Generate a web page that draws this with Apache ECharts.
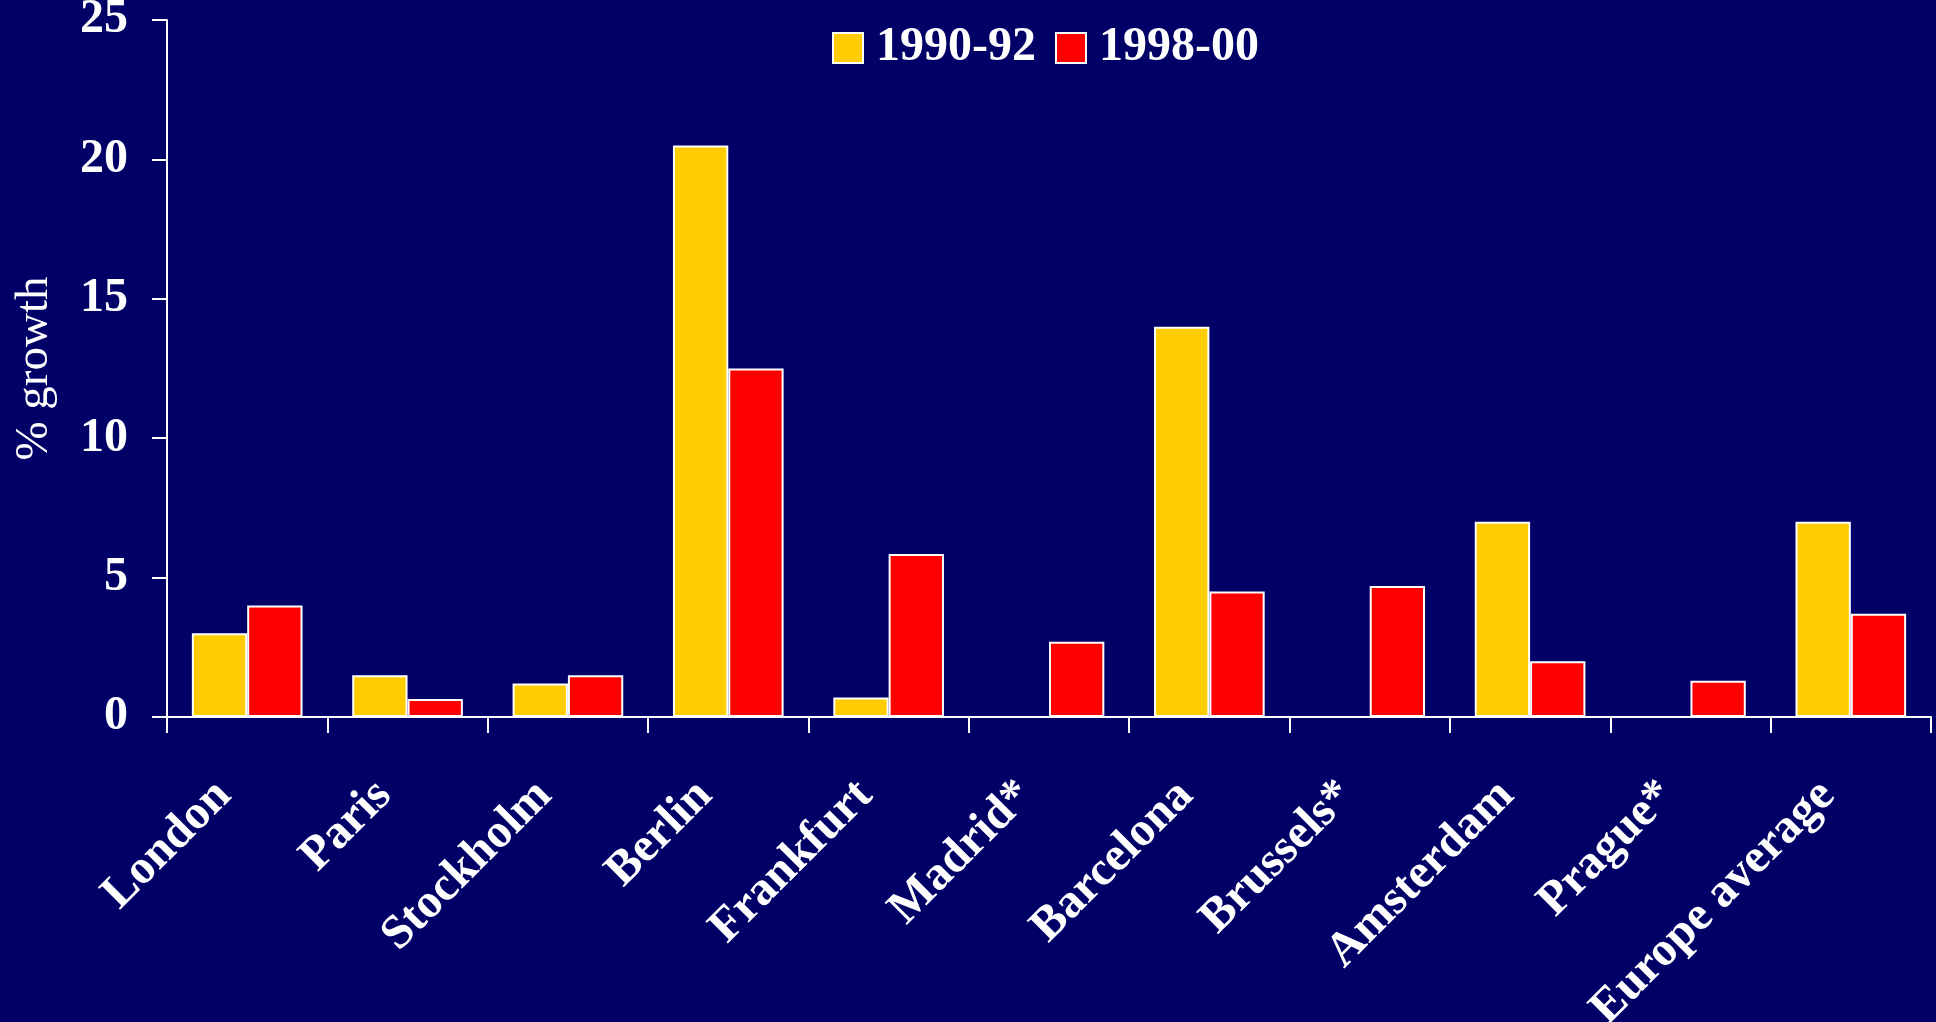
<!DOCTYPE html>
<html>
<head>
<meta charset="utf-8">
<title>Office rent growth by city</title>
<script src="https://cdn.jsdelivr.net/npm/echarts@6/dist/echarts.min.js"></script>
<style>
  html, body { margin: 0; padding: 0; background: #000066; }
  #chart { width: 1936px; height: 1022px; }
</style>
</head>
<body>
<div id="chart"></div>
<script>
// City categories along the x axis
const cities = ['London', 'Paris', 'Stockholm', 'Berlin', 'Frankfurt', 'Madrid*',
  'Barcelona', 'Brussels*', 'Amsterdam', 'Prague*', 'Europe average'];

// % growth per period (null where no figure exists)
const growth1990_92 = [3, 1.5, 1.2, 20.5, 0.7, null, 14, null, 7, null, 7];
const growth1998_00 = [4, 0.65, 1.5, 12.5, 5.85, 2.7, 4.5, 4.7, 2, 1.3, 3.7];

const seriesNames = ['1990-92', '1998-00'];
const yTicks = { min: 0, max: 25, interval: 5 };

const serif = '"Liberation Serif", "Times New Roman", serif';
const white = '#ffffff';

const chart = echarts.init(document.getElementById('chart'), null, { renderer: 'canvas' });

chart.setOption({
  backgroundColor: '#000066',
  animation: false,
  legend: {
    data: seriesNames,
    icon: 'rect',
    left: 827,
    top: 19,
    itemWidth: 30,
    itemHeight: 30,
    itemGap: 19,
    selectedMode: false,
    textStyle: {
      color: white,
      fontFamily: serif,
      fontWeight: 'bold',
      fontSize: 48,
      padding: [0, 0, 0, 8]
    },
    itemStyle: { borderColor: white, borderWidth: 2 }
  },
  grid: {
    left: 167,
    right: 5,
    top: 20,
    bottom: 305,
    containLabel: false,
    outerBoundsMode: 'none'
  },
  xAxis: {
    type: 'category',
    data: cities,
    axisLine: { lineStyle: { color: white, width: 2 } },
    axisTick: { show: true, length: 16, alignWithLabel: false, lineStyle: { color: white, width: 2 } },
    axisLabel: {
      interval: 0,
      rotate: 45,
      align: 'right',
      verticalAlign: 'bottom',
      margin: 82,
      padding: [0, 9, 0, 0],
      color: white,
      fontFamily: serif,
      fontWeight: 'bold',
      fontSize: 48
    },
    splitLine: { show: false }
  },
  yAxis: {
    type: 'value',
    min: yTicks.min,
    max: yTicks.max,
    interval: yTicks.interval,
    name: '% growth',
    nameLocation: 'middle',
    nameGap: 109,
    nameTextStyle: {
      color: white,
      fontFamily: serif,
      fontWeight: 'normal',
      fontSize: 47
    },
    axisLine: { show: true, lineStyle: { color: white, width: 2 } },
    axisTick: { show: true, length: 15, lineStyle: { color: white, width: 2 } },
    axisLabel: {
      margin: 39,
      padding: [8, 0, 0, 0],
      color: white,
      fontFamily: serif,
      fontWeight: 'bold',
      fontSize: 48
    },
    splitLine: { show: false }
  },
  series: [
    {
      name: seriesNames[0],
      type: 'bar',
      data: growth1990_92,
      barGap: '0%',
      barCategoryGap: '31%',
      itemStyle: { color: '#ffcc00', borderColor: white, borderWidth: 2 }
    },
    {
      name: seriesNames[1],
      type: 'bar',
      data: growth1998_00,
      barGap: '0%',
      barCategoryGap: '31%',
      itemStyle: { color: '#ff0000', borderColor: white, borderWidth: 2 }
    }
  ]
});
</script>
</body>
</html>
